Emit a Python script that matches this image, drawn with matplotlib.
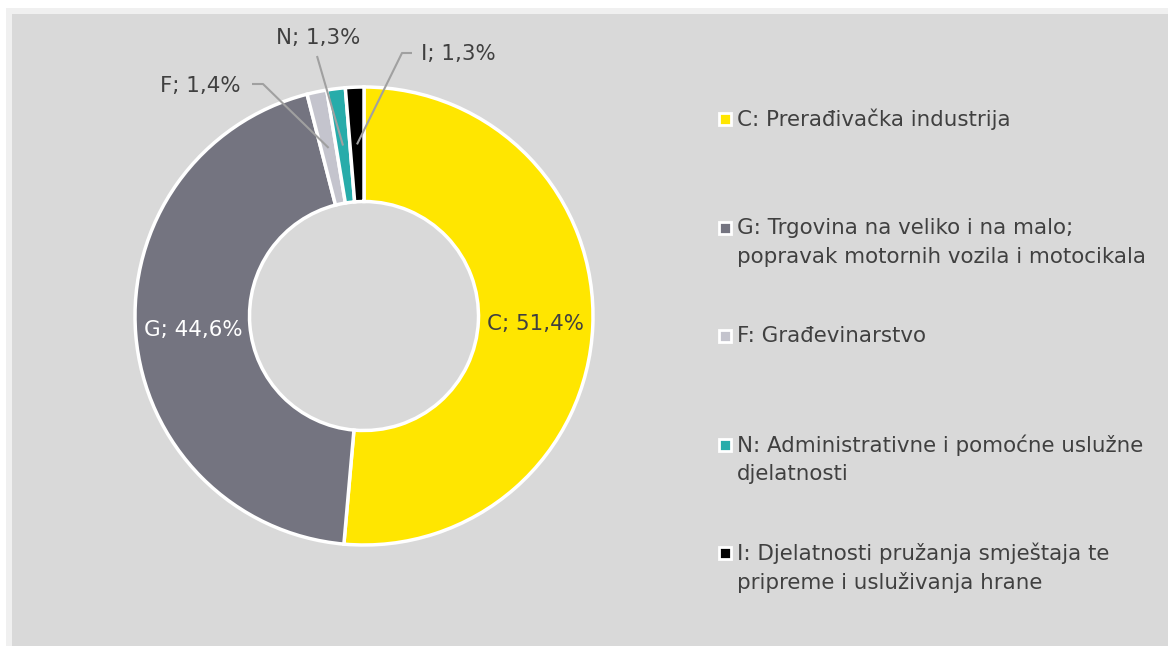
import matplotlib
matplotlib.use('Agg')
import matplotlib.pyplot as plt
from matplotlib.patches import Rectangle
import numpy as np

# ---- data ----
codes = ['C', 'G', 'F', 'N', 'I']
shares = [51.4, 44.6, 1.4, 1.3, 1.3]
legend_labels = [
    'C: Prerađivačka industrija',
    'G: Trgovina na veliko i na malo;\npopravak motornih vozila i motocikala',
    'F: Građevinarstvo',
    'N: Administrativne i pomoćne uslužne\ndjelatnosti',
    'I: Djelatnosti pružanja smještaja te\npripreme i usluživanja hrane',
]
colors = ['#FFE600', '#747480', '#C4C4CD', '#27ACAA', '#000000']

W, H = 1168, 646
TXT = '#404040'
FS = 15.4
plt.rcParams['font.family'] = ['DejaVu Sans']

fig = plt.figure(figsize=(W / 100, H / 100), dpi=100, facecolor='white')
fig.patches.append(Rectangle((6 / W, 0), 1, 1 - 8 / H, transform=fig.transFigure,
                             facecolor='#f0f0f0', edgecolor='none', zorder=-20))
fig.patches.append(Rectangle((12 / W, 0), 1, 1 - 14 / H, transform=fig.transFigure,
                             facecolor='#d9d9d9', edgecolor='none', zorder=-10))

cx, cy, R = 364, 316, 229
ax = fig.add_axes([(cx - R) / W, (H - cy - R) / H, 2 * R / W, 2 * R / H])
ax.set_zorder(5)
ax.patch.set_visible(False)
wedges, _ = ax.pie(shares, colors=colors, startangle=90, counterclock=False, radius=1,
                   wedgeprops=dict(width=0.5, edgecolor='white', linewidth=2.5))
ax.set_xlim(-1, 1)
ax.set_ylim(-1, 1)
ax.axis('off')


def d(px, py):
    return (px - cx) / R, (cy - py) / R


def lab(code, v):
    return f"{code}; {v:.1f}%".replace('.', ',')


# label placement (pixel coords): text centre, leader path points
outer = {
    'F': ((200, 86), [(252, 84), (263, 84)]),
    'N': ((318, 38), [(317, 56)]),
    'I': ((458, 54), [(412, 53), (402, 53)]),
}
for w, code, v in zip(wedges, codes, shares):
    mid = np.deg2rad((w.theta1 + w.theta2) / 2)
    ax_, ay_ = 0.75 * np.cos(mid), 0.75 * np.sin(mid)
    if code in ('C', 'G'):
        ax.text(ax_, ay_, lab(code, v), ha='center', va='center', fontsize=FS,
                color='white' if code == 'G' else TXT)
    else:
        (tx, ty), path = outer[code]
        ax.text(*d(tx, ty), lab(code, v), ha='center', va='center', fontsize=FS, color=TXT)
        pts = [d(*p) for p in path] + [(ax_, ay_)]
        xs, ys = zip(*pts)
        ax.plot(xs, ys, color='#a0a0a0', lw=1.5, clip_on=False, solid_capstyle='butt')

# legend
leg_y = [119, 228, 336, 445, 553]
line_gap = 29.5
for lbl, col, y0 in zip(legend_labels, colors, leg_y):
    fig.patches.append(Rectangle(((719) / W, (H - y0 - 6) / H), 12 / W, 12 / H,
                                 transform=fig.transFigure, facecolor=col,
                                 edgecolor='white', linewidth=2, zorder=3))
    for k, line in enumerate(lbl.split('\n')):
        fig.text(737 / W, 1 - (y0 + k * line_gap) / H, line, ha='left', va='center',
                 fontsize=FS, color=TXT)

fig.savefig('out.png', dpi=100, facecolor=fig.get_facecolor())
